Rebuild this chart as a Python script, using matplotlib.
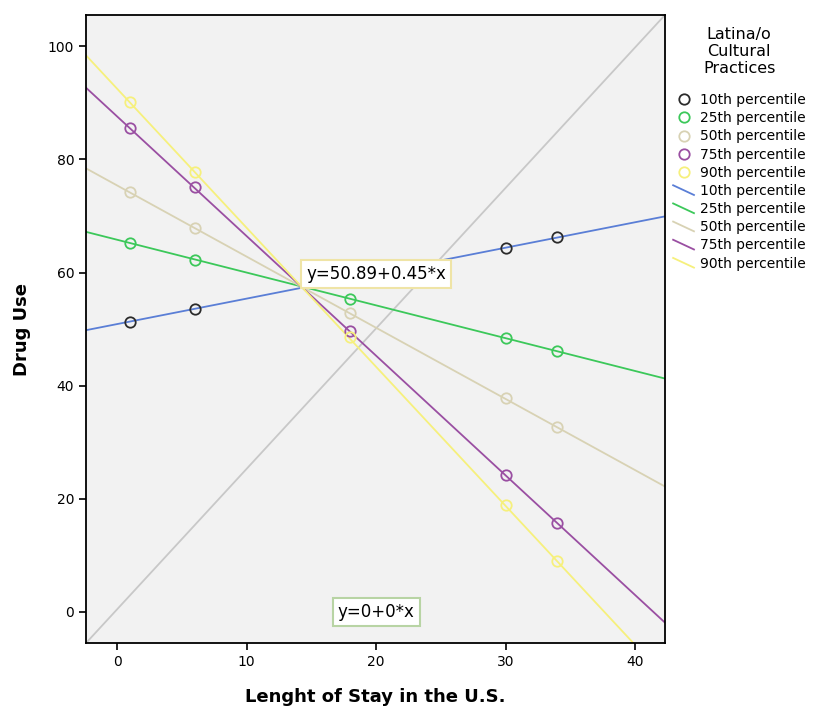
import matplotlib.pyplot as plt
from matplotlib.legend_handler import HandlerLine2D
from matplotlib.lines import Line2D

# percentile groups
groups = ["10th percentile", "25th percentile", "50th percentile",
          "75th percentile", "90th percentile"]

# observed points (length of stay, drug use)
stay = [1, 6, 18, 30, 34]
use_10 = [51.3, 53.6, 59.0, 64.4, 66.2]
use_25 = [65.2, 62.2, 55.3, 48.4, 46.1]
use_50 = [74.2, 67.8, 52.8, 37.8, 32.7]
use_75 = [85.5, 75.1, 49.6, 24.2, 15.7]
use_90 = [90.1, 77.7, 48.6, 18.9, 9.0]

# fit lines
intercepts = [50.89, 65.8, 75.4, 87.6, 92.5]
slopes = [0.45, -0.58, -1.258, -2.115, -2.458]

marker_colors = ["#2b2b2b", "#3cc85a", "#d8d2b4", "#9a4fa2", "#f6f07c"]
line_colors = ["#5a7ed6", "#3cc85a", "#d8d2b4", "#9a4fa2", "#f6f07c"]


class DiagLine(HandlerLine2D):
    # legend line drawn as a short diagonal, like SPSS
    def create_artists(self, legend, orig, xd, yd, w, h, fs, trans):
        ln = Line2D([0, w], [h, 0], color=orig.get_color(), lw=orig.get_linewidth())
        ln.set_transform(trans)
        return [ln]


fig = plt.figure(figsize=(8.14, 7.07), dpi=100)
ax = fig.add_axes([0.1057, 0.0905, 0.711, 0.888])
ax.set_facecolor("#f2f2f2")

# reference line
ax.axline((0, 0), (1, 1), transform=ax.transAxes, color="#c8c8c8", lw=1.3, zorder=1)

all_use = [use_10, use_25, use_50, use_75, use_90]
marker_handles = []
line_handles = []
for g, ys, mc, lc, b, m in zip(groups, all_use, marker_colors, line_colors, intercepts, slopes):
    ax.axline((0, b), slope=m, color=lc, lw=1.3, zorder=2)
    line_handles.append(Line2D([], [], color=lc, lw=1.3))
    pts, = ax.plot(stay, ys, "o", mfc="none", mec=mc, ms=7.5, mew=1.3, zorder=3,
                   linestyle="none")
    marker_handles.append(pts)

ax.set_xlim(-2.4, 42.3)
ax.set_ylim(-5.5, 105.5)
ax.set_xticks([0, 10, 20, 30, 40])
ax.set_yticks([0, 20, 40, 60, 80, 100])
ax.tick_params(direction="out", length=5, width=1.2, labelsize=10, colors="black")
for s in ax.spines.values():
    s.set_linewidth(1.3)

ax.text(20, 59.7, "y=50.89+0.45*x", ha="center", va="center", fontsize=12, zorder=5,
        bbox=dict(boxstyle="square,pad=0.3", fc="white", ec="#efe4a6", lw=1.5))
ax.text(20, 0, "y=0+0*x", ha="center", va="center", fontsize=12, zorder=5,
        bbox=dict(boxstyle="square,pad=0.3", fc="white", ec="#b8d4a4", lw=1.5))

ax.set_xlabel("Lenght of Stay in the U.S.", fontsize=13, fontweight="bold", labelpad=14)
ax.set_ylabel("Drug Use", fontsize=13, fontweight="bold", labelpad=12)

hmap = {h: DiagLine() for h in line_handles}
leg = ax.legend(marker_handles + line_handles, groups + groups,
                title="Latina/o\nCultural\nPractices", loc="upper left",
                bbox_to_anchor=(1.0, 0.995), frameon=False, fontsize=10,
                title_fontsize=11.5, handlelength=1.5, handletextpad=0.4,
                labelspacing=0.3, borderaxespad=0.2, handler_map=hmap)
leg.get_title().set_multialignment("center")
leg._legend_box.sep = 12

fig.savefig("out.png", dpi=100)
